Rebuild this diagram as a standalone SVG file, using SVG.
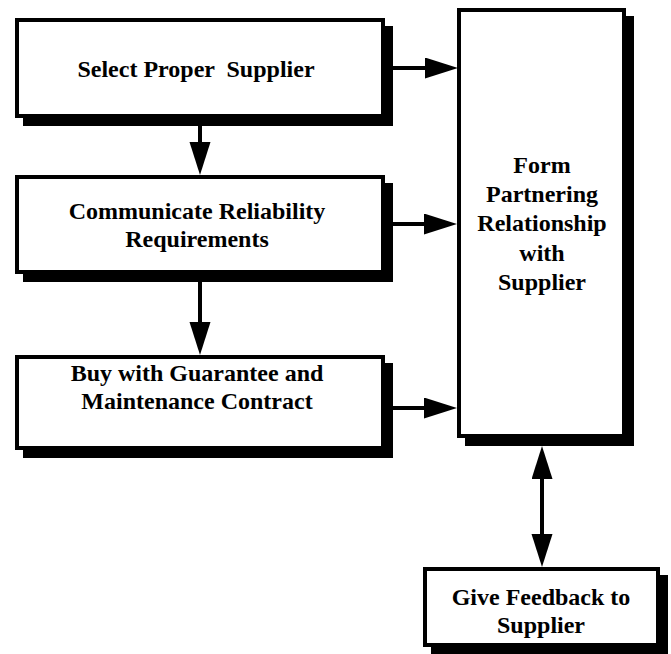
<svg xmlns="http://www.w3.org/2000/svg" width="671" height="654" viewBox="0 0 671 654">
<style>
.box{fill:#fff;stroke:#000;stroke-width:4}
.sh{fill:#000}
.t{font-family:"Liberation Serif","Times New Roman",serif;font-weight:bold;font-size:24px;text-anchor:middle;fill:#000;white-space:pre}
.c{stroke:#000;stroke-width:4;fill:none}
</style>
<defs>
<marker id="ah" markerUnits="userSpaceOnUse" markerWidth="34" markerHeight="22" refX="0" refY="10.5" orient="auto-start-reverse" viewBox="0 0 34 22">
<path d="M0,0 L33,10.5 L0,21 Z" fill="#000"/>
</marker>
</defs>
<rect width="671" height="654" fill="#fff"/>
<g id="select">
<rect class="sh" x="23" y="26" width="370" height="100"/>
<rect class="box" x="17" y="20" width="366" height="96"/>
<text class="t" x="196" y="77" xml:space="preserve">Select Proper  Supplier</text>
</g>
<g id="communicate">
<rect class="sh" x="23" y="183" width="370" height="99"/>
<rect class="box" x="17" y="177" width="366" height="95"/>
<text class="t" x="197" y="219">Communicate Reliability</text>
<text class="t" x="197" y="247">Requirements</text>
</g>
<g id="buy">
<rect class="sh" x="23" y="363" width="370" height="95"/>
<rect class="box" x="17" y="357" width="366" height="91"/>
<text class="t" x="197" y="381">Buy with Guarantee and</text>
<text class="t" x="197" y="409">Maintenance Contract</text>
</g>
<g id="partner">
<rect class="sh" x="465" y="16" width="169" height="430"/>
<rect class="box" x="459" y="10" width="165" height="426"/>
<text class="t" x="542" y="173">Form</text>
<text class="t" x="542" y="202">Partnering</text>
<text class="t" x="542" y="231">Relationship</text>
<text class="t" x="542" y="261">with</text>
<text class="t" x="542" y="290">Supplier</text>
</g>
<g id="feedback">
<rect class="sh" x="431" y="575" width="237" height="80"/>
<rect class="box" x="425" y="569" width="233" height="76"/>
<text class="t" x="541" y="605">Give Feedback to</text>
<text class="t" x="541" y="633">Supplier</text>
</g>
<g id="connectors">
<line class="c" x1="393" y1="68" x2="425" y2="68" marker-end="url(#ah)"/>
<line class="c" x1="393" y1="224" x2="424" y2="224" marker-end="url(#ah)"/>
<line class="c" x1="393" y1="408" x2="424" y2="408" marker-end="url(#ah)"/>
<line class="c" x1="200" y1="126" x2="200" y2="142" marker-end="url(#ah)"/>
<line class="c" x1="200" y1="282" x2="200" y2="322" marker-end="url(#ah)"/>
<line class="c" x1="542" y1="479" x2="542" y2="534" marker-start="url(#ah)" marker-end="url(#ah)"/>
</g>
</svg>
